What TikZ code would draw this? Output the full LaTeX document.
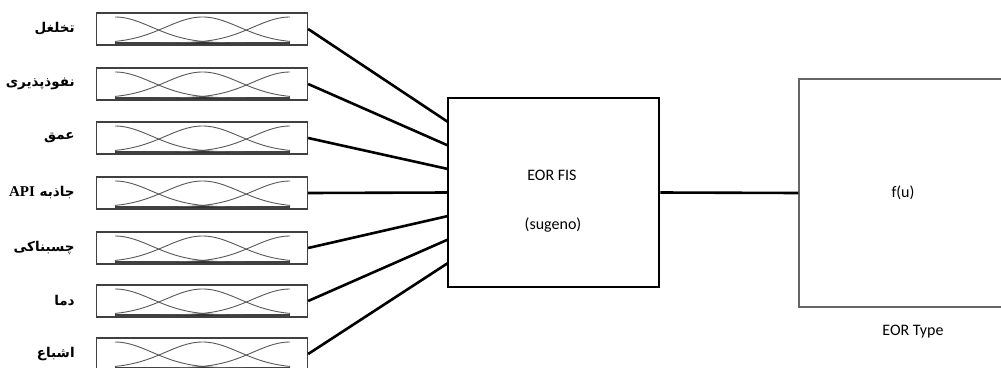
\documentclass[tikz,border=0pt]{standalone}
\usepackage{fontspec}
\setmainfont{Carlito}
\newfontfamily\arabicfont[Script=Arabic]{DejaVu Sans}
\newfontfamily\latinbold{Liberation Serif}
\TeXXeTstate=1
\usetikzlibrary{positioning}

\begin{document}
\begin{tikzpicture}[x=1pt, y=-1pt,
	inbox/.style = {draw=black!75, line width=1.3pt, minimum width=211pt, minimum height=32pt, inner sep=0pt},
	lbl/.style = {font=\arabicfont\bfseries\fontsize{13.5}{16}\selectfont, inner sep=0pt},
	curve/.style = {black!65, line width=0.9pt},
	link/.style = {line width=2.6pt},
	fisbox/.style = {draw, line width=2.5pt, minimum width=211pt, minimum height=189pt, inner sep=0pt},
	outbox/.style = {draw=black!60, line width=1.3pt, minimum width=222pt, minimum height=228pt, inner sep=0pt},
	txt/.style = {font=\fontsize{16}{19}\selectfont, inner sep=0pt}]
	\useasboundingbox (0,0) rectangle (1001,367);
	\fill[white] (0,0) rectangle (1001,367);
	% fuzzy system and output
	\node[fisbox] (fis) at (553.5,192.5) {};
	\node[outbox] (out) at (910,193) {};
	\node[txt] (fisname) at (552,175) {EOR FIS};
	\node[txt] (fistype) at (553,225) {(sugeno)};
	\node[txt] (fu) at (903,193) {f(u)};
	\node[txt] (outname) at (913,332) {EOR Type};
	\draw[link] (fis.east) -- (out.west);
	% inputs with membership functions
	\foreach \i/\y/\q in {1/29/122, 2/84/145.5, 3/138/169, 4/193/192.5, 5/248/216, 6/301/239.5, 7/354/263} {
		\node[inbox] (in\i) at (202,\y) {};
		\draw[black!80, line width=1.3pt] (115,\y+14) -- (290,\y+14);
		\foreach \c in {115,202.5,290}
			\draw[curve] plot[domain=115:290, samples=60, smooth] (\x, {\y+14-26*exp(-0.5*((\x-\c)/37)^2)});
		\coordinate (q\i) at (448,\q);
		\draw[link] (in\i.east) -- (q\i);
	}
	\node[lbl, left=21pt of in1] (l1) {\beginR تخلغل\endR};
	\node[lbl, left=21pt of in2] (l2) {\beginR نفوذپذیری\endR};
	\node[lbl, left=21pt of in3] (l3) {\beginR عمق\endR};
	\node[lbl, left=21pt of in4] (l4) {\beginR جاذبه {\latinbold\bfseries\fontsize{15}{17}\selectfont\beginL API\endL}\endR};
	\node[lbl, left=21pt of in5] (l5) {\beginR چسبناکی\endR};
	\node[lbl, left=21pt of in6] (l6) {\beginR دما\endR};
	\node[lbl, left=21pt of in7] (l7) {\beginR اشباع\endR};
\end{tikzpicture}
\end{document}
